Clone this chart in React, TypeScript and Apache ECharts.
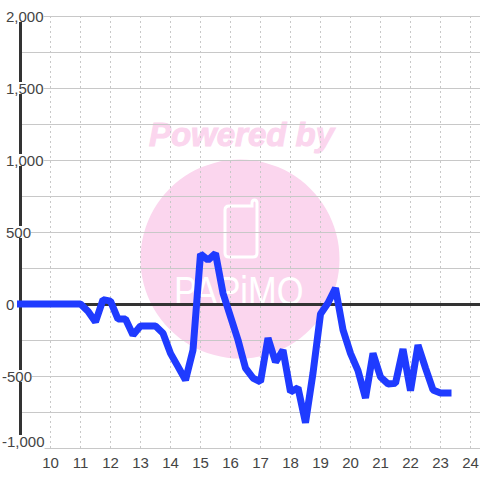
import React, { useEffect, useRef } from "react";
import * as echarts from "echarts";

const hours = [9, 9.25, 9.5, 9.75, 10, 10.25, 10.5, 10.75, 11, 11.25, 11.5, 11.75, 12, 12.25, 12.5, 12.75, 13, 13.25, 13.5, 13.75, 14, 14.25, 14.5, 14.75, 15, 15.25, 15.5, 15.75, 16, 16.25, 16.5, 16.75, 17, 17.25, 17.5, 17.75, 18, 18.25, 18.5, 18.75, 19, 19.25, 19.5, 19.75, 20, 20.25, 20.5, 20.75, 21, 21.25, 21.5, 21.75, 22, 22.25, 22.5, 22.75, 23, 23.25];
const values = [0, 0, 0, 0, 0, 0, 0, 0, 0, -50, -125, 30, 20, -105, -105, -215, -153, -153, -153, -203, -343, -435, -528, -320, 347, 305, 352, 75, -88, -250, -445, -514, -540, -236, -403, -320, -611, -581, -825, -480, -69, 7, 111, -180, -343, -463, -653, -343, -507, -555, -550, -313, -602, -285, -445, -597, -618, -618];

const PINK = "#fbd6ee";
const FONT = "'Liberation Sans', Arial, sans-serif";

const fmt = (v: number) => {
  const s = Math.abs(v).toString().replace(/\B(?=(\d{3})+$)/g, ",");
  if (v === -1000) return "{b|-" + s + "}";
  return v < 0 ? "{t|-" + s + "}" : "{s|}{t|" + s + "}";
};

echarts.graphic.registerShape(
  "phone",
  echarts.graphic.extendPath(
    "M229 206 H252 V203 Q252 200 254.5 200 Q257 200 257 203 V253 Q257 257 253 257 H229 Q225 257 225 253 V210 Q225 206 229 206 Z",
    {}
  )
);

export default function App() {
  const ref = useRef<HTMLDivElement>(null);
  useEffect(() => {
    const chart = echarts.init(ref.current!, null, { renderer: "svg" });
    chart.setOption({
      animation: false,
      backgroundColor: "#fff",
      grid: { left: 20.5, right: -20.5, top: 16, bottom: 32, outerBoundsMode: "none" },
      graphic: [
        { type: "circle", z: -2, shape: { cx: 240, cy: 259, r: 99.5 }, style: { fill: PINK } },
        { type: "text", z: -1, x: 241.5, y: 134, style: { text: "Powered by", font: "italic bold 33px " + FONT, fill: PINK, stroke: PINK, lineWidth: 1, textAlign: "center", textVerticalAlign: "middle" } },
        { type: "phone", z: -1, style: { fill: PINK, stroke: "#fff", lineWidth: 3 } },
        { type: "text", z: -1, x: 174, y: 290.5, scaleX: 0.84, style: { text: "PAPiMO", font: "41px " + FONT, fill: "#fff", textVerticalAlign: "middle" } },
      ],
      xAxis: [
        {
          type: "value", min: 9, max: 25, interval: 1,
          axisLine: { show: false, onZero: false }, axisTick: { show: false },
          splitLine: { show: true, lineStyle: { color: "#c8c8c8", type: [2, 3], width: 1 } },
          axisLabel: { margin: 7, fontSize: 15, fontFamily: FONT, color: "#444", formatter: (v: number) => (v === 9 || v === 25 ? "" : String(v)) },
        },
        {
          type: "value", min: 9, max: 25, interval: 1, position: "top",
          axisLine: { show: true, onZero: true, lineStyle: { color: "#333", width: 3 } },
          axisTick: { show: false }, axisLabel: { show: false }, splitLine: { show: false },
        },
      ],
      yAxis: {
        type: "value", min: -1000, max: 2000, interval: 250,
        axisLine: { show: true, onZero: false, lineStyle: { color: "#333", width: 3 } },
        axisTick: { show: false },
        splitLine: { show: true, lineStyle: { color: "#c8c8c8", width: 1 } },
        axisLabel: {
          margin: 18.5, align: "left", showMinLabel: true, showMaxLabel: true,
          formatter: (v: number) => (v % 500 === 0 ? fmt(v) : ""),
          rich: {
            s: { width: 4, height: 12 },
            t: { fontSize: 15, fontFamily: FONT, color: "#444", backgroundColor: "#fff", lineHeight: 12, height: 12 },
            b: { fontSize: 15, fontFamily: FONT, color: "#444", backgroundColor: "#fff", lineHeight: 12, height: 12, padding: [0, 0, 14, 0] },
          },
        },
      },
      series: [{
        type: "line", xAxisIndex: 0, data: hours.map((h, i) => [h, values[i]]),
        symbol: "none", clip: false, z: 5,
        lineStyle: { color: "#1f3bff", width: 7, cap: "square", join: "bevel" },
      }],
    });
    return () => chart.dispose();
  }, []);
  return <div ref={ref} style={{ position: "fixed", left: 0, top: 0, width: 480, height: 480 }} />;
}
